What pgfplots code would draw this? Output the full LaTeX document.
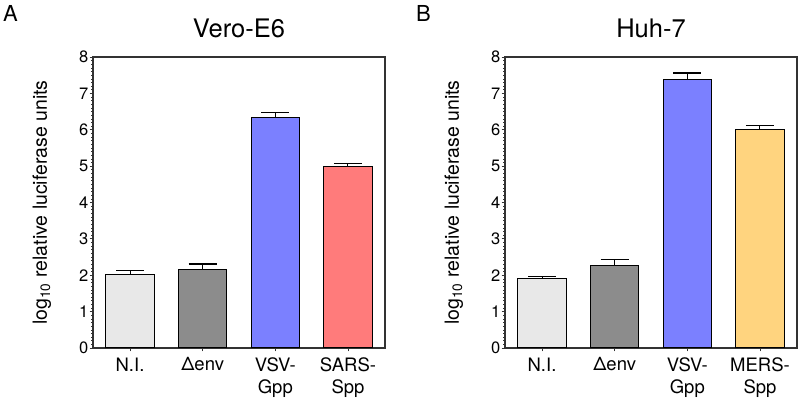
\documentclass[border=0pt]{standalone}
\usepackage{pgfplots}
\pgfplotsset{compat=1.18}
\usepackage{fontspec}
\setmainfont{TeX Gyre Heros}
\definecolor{cNI}{HTML}{E8E8E8}
\definecolor{cEnv}{HTML}{8C8C8C}
\definecolor{cVSV}{HTML}{7B80FF}
\definecolor{cSARS}{HTML}{FF7B7B}
\definecolor{cMERS}{HTML}{FFD47F}
\definecolor{frame}{HTML}{333333}
\pgfplotsset{
  panel/.style={
    scale only axis,
    width=292pt, height=291pt,
    anchor=south west,
    xmin=-0.51, xmax=3.51,
    ymin=0, ymax=8,
    ytick={0,...,8},
    minor y tick num=9,
    xtick={0,1,2,3},
    ytick pos=left, xtick pos=bottom,
    tick align=outside,
    major tick length=3.5pt,
    minor tick length=1.6pt,
    every tick/.style={draw=frame, line width=0.9pt},
    minor tick style={line width=0.6pt},
    axis line style={draw=frame, line width=1.2pt},
    /pgf/number format/assume math mode=true,
    yticklabel style={font=\fontsize{16.5}{18}\selectfont, inner sep=1pt},
    xticklabel style={font=\fontsize{18.5}{22}\selectfont, align=center, inner sep=2pt, yshift=-4pt},
    ylabel={log\textsubscript{10} relative luciferase units},
    ylabel style={font=\fontsize{19.5}{22}\selectfont, at={(axis description cs:-0.175,0.5)}, anchor=center},
    title style={font=\fontsize{25.5}{28}\selectfont, at={(axis description cs:0.5,1)}, anchor=base, yshift=13.7pt},
  },
  br/.style={ybar, bar shift=0pt, bar width=48.5pt, draw=black, line width=1pt, fill=#1,
    error bars/.cd, y dir=plus, y explicit,
    error bar style={draw=black, line width=1pt},
    error mark options={draw=black, line width=1.2pt, mark size=14pt, rotate=90}},
}
\begin{document}
\begin{tikzpicture}
\useasboundingbox (0,0) rectangle (800pt,404pt);
\node[anchor=base west, font=\fontsize{22}{24}\selectfont, inner sep=0pt] at (3pt,382.3pt) {A};
\node[anchor=base west, font=\fontsize{22}{24}\selectfont, inner sep=0pt] at (416pt,382.3pt) {B};
\begin{axis}[panel, at={(93pt,56pt)}, title={Vero-E6},
  xticklabels={{N.I.},{Δenv},{VSV-\\Gpp},{SARS-\\Spp}}]
\addplot[br=cNI] coordinates {(0,2.03) +- (0,0.10)};
\addplot[br=cEnv] coordinates {(1,2.16) +- (0,0.15)};
\addplot[br=cVSV] coordinates {(2,6.34) +- (0,0.13)};
\addplot[br=cSARS] coordinates {(3,4.99) +- (0,0.09)};
\end{axis}
\begin{axis}[panel, at={(505pt,56pt)}, title={Huh-7},
  xticklabels={{N.I.},{Δenv},{VSV-\\Gpp},{MERS-\\Spp}}]
\addplot[br=cNI] coordinates {(0,1.90) +- (0,0.06)};
\addplot[br=cEnv] coordinates {(1,2.28) +- (0,0.15)};
\addplot[br=cVSV] coordinates {(2,7.37) +- (0,0.19)};
\addplot[br=cMERS] coordinates {(3,6.02) +- (0,0.09)};
\end{axis}
\end{tikzpicture}
\end{document}
